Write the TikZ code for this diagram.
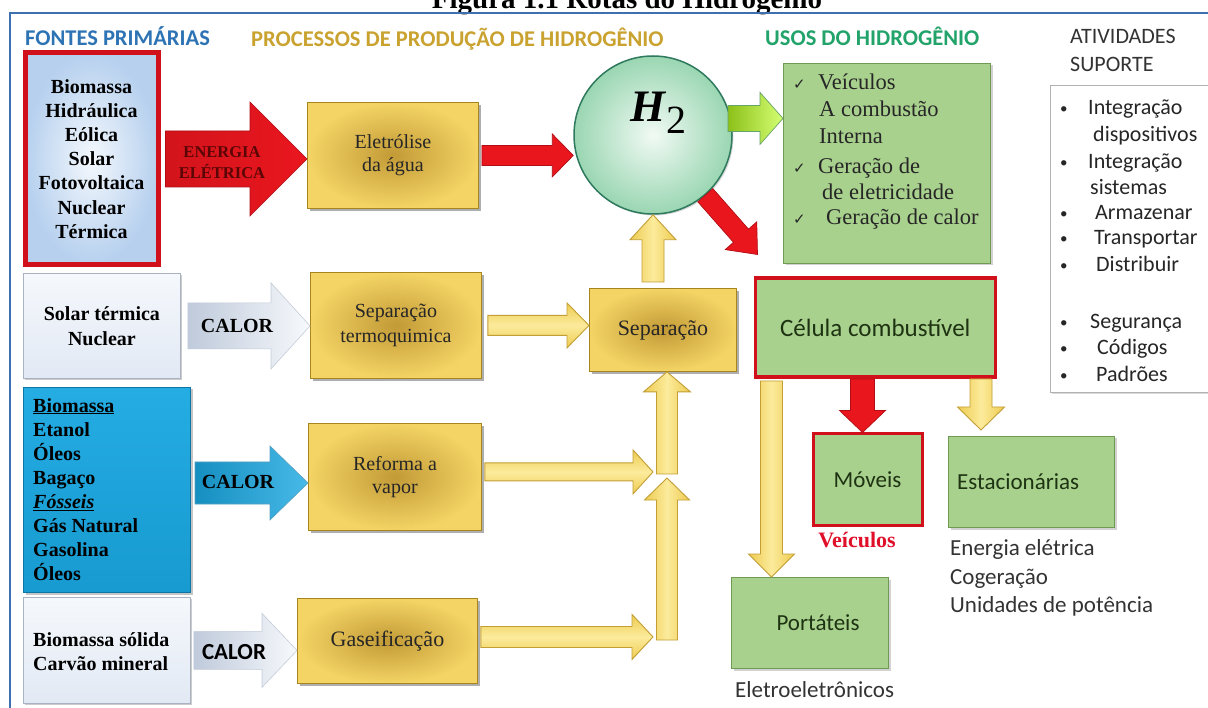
\documentclass[tikz,border=0pt]{standalone}
\usepackage{fontspec}
\setmainfont{Liberation Serif}
\newfontfamily\calib{Carlito}
\newfontfamily\dejavu{DejaVu Sans}
\usetikzlibrary{calc,shadows}
\definecolor{frameblue}{HTML}{3E6FAE}
\definecolor{fontblue}{HTML}{2E74B5}
\definecolor{procgold}{HTML}{C9A230}
\definecolor{usogreen}{HTML}{22A36A}
\definecolor{hdrgray}{HTML}{333333}
\definecolor{goldIn}{HTML}{C29A36}
\definecolor{goldOut}{HTML}{F4D465}
\definecolor{goldE}{HTML}{A8861F}
\definecolor{greenF}{HTML}{A9D18E}
\definecolor{greenE}{HTML}{6F9A52}
\definecolor{txtgreen}{HTML}{1E3312}
\definecolor{redB}{HTML}{D0101A}
\definecolor{redA}{HTML}{EA161E}
\definecolor{redAE}{HTML}{B00E14}
\definecolor{yelL}{HTML}{FCEB9C}
\definecolor{yelD}{HTML}{EDCB50}
\definecolor{yelE}{HTML}{C29E35}
\definecolor{lightT}{HTML}{F5F8FC}
\definecolor{lightB}{HTML}{E2E9F4}
\definecolor{lightE}{HTML}{A9B2C0}
\definecolor{cyanF}{HTML}{19A8E2}
\definecolor{cyanE}{HTML}{0E76A6}
\definecolor{energtxt}{HTML}{5A0606}
\definecolor{veicred}{HTML}{E0102A}
\definecolor{hIn}{HTML}{F1FAF4}
\definecolor{hOut}{HTML}{9AD6B2}
\definecolor{hE}{HTML}{2F7A5E}
\definecolor{srcIn}{HTML}{F4F8FD}
\definecolor{srcOut}{HTML}{B6D0EE}
\definecolor{calL}{HTML}{BFCADB}
\definecolor{calR}{HTML}{F7F9FC}
\definecolor{calE}{HTML}{C4CCD8}
\newcommand\blockarr[6]{%
  \coordinate (bah) at ($(#3)!#6pt!(#2)$);
  \path[#1] ($(#2)!#4pt!90:(#3)$) -- ($(bah)!#4pt!90:(#3)$) -- ($(bah)!#5pt!90:(#3)$) -- (#3)
    -- ($(bah)!#5pt!-90:(#3)$) -- ($(bah)!#4pt!-90:(#3)$) -- ($(#2)!#4pt!-90:(#3)$) -- cycle;}
\newcommand\chk{\makebox[25pt][l]{\dejavu\fontsize{15}{15}\selectfont ✓}}
\newcommand\bul[1]{\makebox[#1][l]{\raisebox{1pt}{\fontsize{15}{15}\selectfont •}}}
\begin{document}
\begin{tikzpicture}[x=1pt,y=-1pt,
  gold/.style={rectangle, draw=goldE, line width=0.9pt, inner color=goldIn, outer color=goldOut,
    drop shadow={shadow xshift=2.5pt,shadow yshift=-2.5pt,opacity=0.45,fill=black!70}, inner sep=0pt,
    anchor=north west, align=center, text=black!85},
  grn/.style={rectangle, draw=greenE, line width=1pt, fill=greenF,
    drop shadow={shadow xshift=2pt,shadow yshift=-2pt,opacity=0.35}, inner sep=0pt, anchor=north west,
    font=\calib\fontsize{23}{28}\selectfont, text=txtgreen},
  redframe/.style={grn, draw=redB, line width=3.5pt,
    drop shadow={shadow xshift=1.5pt,shadow yshift=-1.5pt,opacity=0.6,fill=red!45!black}},
  lightbox/.style={rectangle, draw=lightE, line width=0.8pt, top color=lightT, bottom color=lightB,
    drop shadow={shadow xshift=2pt,shadow yshift=-2pt,opacity=0.4}, inner sep=0pt, anchor=north west,
    font=\bfseries\fontsize{20}{25}\selectfont, align=center},
  serifB/.style={font=\bfseries\fontsize{20}{24.1}\selectfont, inner sep=0pt},
  hdr/.style={anchor=base west, inner sep=0pt, font=\calib\bfseries\fontsize{22.5}{27}\selectfont},
  ativ/.style={anchor=base west, inner sep=0pt, font=\calib\fontsize{22}{26}\selectfont, text=black!85},
  ustxt/.style={anchor=base west, inner sep=0pt, font=\fontsize{22.5}{26}\selectfont, text=black!85},
  lowtxt/.style={anchor=base west, inner sep=0pt, font=\calib\fontsize{23}{28}\selectfont, text=black!80},
  yarrH/.style={top color=yelD, bottom color=yelD, middle color=yelL, draw=yelE, line width=0.9pt},
  yarrV/.style={left color=yelD, right color=yelD, middle color=yelL, draw=yelE, line width=0.9pt},
  rarr/.style={fill=redA, draw=redAE, line width=0.7pt},
  calorL/.style={left color=calL, right color=calR, draw=calE, line width=0.6pt},
  calorB/.style={left color=cyanF!85!black, right color=cyanF!80!white, draw=cyanE!70, line width=0.6pt},
  energ/.style={left color=redA!90!black, right color=redA, draw=redAE, line width=0.6pt},
  garr/.style={left color=green!45!black!50!yellow!90, right color=green!30!yellow!55, draw=green!40!black!60, line width=0.7pt}
]
\useasboundingbox (0,0) rectangle (1208,708);
\fill[white] (0,0) rectangle (1208,708);

% title and frame
\node[anchor=base, inner sep=0pt, font=\bfseries\fontsize{29}{32}\selectfont] (title) at (627,9) {Figura 1.1 Rotas do Hidrogênio};
\draw[frameblue, line width=1.3pt] (10,708) -- (10,13) -- (1208,13);

% headers
\node[hdr, text=fontblue] (hfontes) at (25,46) {FONTES PRIMÁRIAS};
\node[hdr, text=procgold] (hproc) at (251,47) {PROCESSOS DE PRODUÇÃO DE HIDROGÊNIO};
\node[hdr, text=usogreen] (husos) at (765,46) {USOS DO HIDROGÊNIO};
\node[ativ, text=hdrgray] (hativ1) at (1070,44) {ATIVIDADES};
\node[ativ, text=hdrgray] (hativ2) at (1070,72) {SUPORTE};

% primary sources
\node[rectangle, anchor=north west, minimum width=133pt, minimum height=212pt, inner sep=0pt,
  draw=redB, line width=5pt, inner color=srcIn, outer color=srcOut,
  drop shadow={shadow xshift=2pt,shadow yshift=-2pt,opacity=0.7,fill=red!40!black},
  serifB, align=center] (src1) at (22.5,50.5)
  {Biomassa\\Hidráulica\\Eólica\\Solar\\Fotovoltaica\\Nuclear\\Térmica};
\node[lightbox, minimum width=157pt, minimum height=105pt] (solar) at (23,273) {Solar térmica\\Nuclear};
\node[rectangle, anchor=north west, minimum width=167pt, minimum height=205pt, inner sep=0pt,
  top color=cyanF!95!white, bottom color=cyanF!92!black, draw=cyanE, line width=1pt,
  drop shadow={shadow xshift=2pt,shadow yshift=-2pt,opacity=0.45}] (bluebx) at (23,387) {};
\node[serifB, anchor=north west, align=left] (bluetxt) at (33,398)
  {\underline{Biomassa}\\Etanol\\Óleos\\Bagaço\\\underline{\textit{Fósseis}}\\Gás Natural\\Gasolina\\Óleos};
\node[lightbox, minimum width=167pt, minimum height=106pt] (box4) at (23,597) {};
\node[serifB, anchor=west, align=left] (box4txt) at (33,652) {Biomassa sólida\\Carvão mineral};

% production processes
\node[gold, minimum width=171pt, minimum height=106pt, font=\fontsize{20}{23}\selectfont] (eletro) at (307,102) {Eletrólise\\da água};
\node[gold, minimum width=171pt, minimum height=106pt, font=\fontsize{20}{25}\selectfont] (septermo) at (310,272) {Separação\\termoquimica};
\node[gold, minimum width=173pt, minimum height=107pt, font=\fontsize{20}{23}\selectfont] (reforma) at (308,423) {Reforma a\\vapor};
\node[gold, minimum width=180pt, minimum height=85pt, font=\fontsize{22}{25}\selectfont] (gasei) at (297,598) {Gaseificação};
\node[gold, minimum width=147pt, minimum height=83pt, font=\fontsize{22}{25}\selectfont] (separacao) at (589,288) {Separação};

% H2
\node[circle, minimum size=158pt, inner sep=0pt, draw=hE, line width=1.5pt, inner color=hIn, outer color=hOut,
  drop shadow={shadow xshift=1.5pt,shadow yshift=-1.5pt,opacity=0.3}] (h2) at (653,135) {};
\node[anchor=base west, inner sep=0pt, font=\fontsize{45}{45}\selectfont] (h2txt) at (630,122)
  {\textbf{\textit{H}}\raisebox{-12pt}{\fontsize{40}{40}\selectfont 2}};

% uses
\node[grn, minimum width=207pt, minimum height=200pt] (usos) at (783,63) {};
\node[ustxt] (u1) at (793,89.5) {\chk Veículos};
\node[ustxt] (u2) at (819,116.5) {A combustão};
\node[ustxt] (u3) at (819,143.5) {Interna};
\node[ustxt] (u4) at (793,173.5) {\chk Geração de};
\node[ustxt] (u5) at (822,199.5) {de eletricidade};
\node[ustxt] (u6) at (793,224.5) {\chk\hspace{8pt}Geração de calor};

\node[redframe, minimum width=240pt, minimum height=99pt, font=\calib\fontsize{25}{30}\selectfont] (celula) at (753.5,276.5) {Célula combustível};
\node[redframe, line width=3pt, minimum width=109pt, minimum height=91pt] (moveis) at (811.5,432.5) {Móveis};
\node[grn, minimum width=166pt, minimum height=91pt] (estac) at (948,436) {};
\node[anchor=west, inner sep=0pt, font=\calib\fontsize{23}{28}\selectfont, text=txtgreen] (estactxt) at (957,482) {Estacionárias};
\node[grn, minimum width=157pt, minimum height=91pt] (portateis) at (731,577) {};
\node[anchor=center, inner sep=0pt, font=\calib\fontsize{23}{28}\selectfont, text=txtgreen] (porttxt) at (818,623) {Portáteis};

\node[anchor=base, inner sep=0pt, font=\bfseries\fontsize{22}{24}\selectfont, text=veicred] (veic) at (857,547) {Veículos};
\node[lowtxt] (low1) at (950,555) {Energia elétrica};
\node[lowtxt] (low2) at (950,584) {Cogeração};
\node[lowtxt] (low3) at (950,612) {Unidades de potência};
\node[lowtxt] (low4) at (735,697) {Eletroeletrônicos};

% support activities
\node[rectangle, anchor=north west, minimum width=170pt, minimum height=307pt, draw=black!30, fill=white,
  line width=0.8pt, drop shadow={shadow xshift=2pt,shadow yshift=-2pt,opacity=0.3}] (ativbox) at (1050,85) {};
\node[ativ] (a1) at (1060,114.5) {\bul{28pt}Integração};
\node[ativ] (a2) at (1093,141.5) {dispositivos};
\node[ativ] (a3) at (1060,168.5) {\bul{28pt}Integração};
\node[ativ] (a4) at (1090,194.5) {sistemas};
\node[ativ] (a5) at (1060,219.5) {\bul{35pt}Armazenar};
\node[ativ] (a6) at (1060,244.5) {\bul{34pt}Transportar};
\node[ativ] (a7) at (1060,271.5) {\bul{36pt}Distribuir};
\node[ativ] (a8) at (1060,328.5) {\bul{30pt}Segurança};
\node[ativ] (a9) at (1060,354.5) {\bul{37pt}Códigos};
\node[ativ] (a10) at (1060,381.5) {\bul{36pt}Padrões};

% input arrows
\coordinate (ea) at ([xshift=5pt]src1.east);
\coordinate (eb) at (eletro.west |- ea);
\blockarr{energ}{ea}{eb}{28}{57}{57}
\node[inner sep=0pt, align=center, font=\bfseries\fontsize{16.5}{21}\selectfont, text=energtxt] (energtxt) at (222,163) {ENERGIA\\ELÉTRICA};

\coordinate (c1a) at ([xshift=7pt]solar.east);
\coordinate (c1b) at (septermo.west |- c1a);
\blockarr{calorL}{c1a}{c1b}{23}{43}{39}
\node[inner sep=0pt, font=\bfseries\fontsize{20}{24}\selectfont] (calor1) at (237,326) {CALOR};

\coordinate (c2a) at ([xshift=4pt,yshift=7pt]bluebx.east);
\coordinate (c2b) at (reforma.west |- c2a);
\blockarr{calorB}{c2a}{c2b}{21}{37}{38}
\node[inner sep=0pt, font=\bfseries\fontsize{20}{24}\selectfont] (calor2) at (238,482) {CALOR};

\coordinate (c3a) at ([xshift=3pt]box4.east);
\coordinate (c3b) at (gasei.west |- c3a);
\blockarr{calorL}{c3a}{c3b}{19}{37}{35}
\node[inner sep=0pt, font=\calib\bfseries\fontsize{23}{26}\selectfont] (calor3) at (234,652) {CALOR};

% production -> H2
\coordinate (ra) at ([xshift=3pt]eletro.east);
\coordinate (rb) at (h2.west |- ra);
\blockarr{rarr}{ra}{rb}{10}{21.5}{21}

\coordinate (ta) at ([xshift=6pt]septermo.east);
\coordinate (tb) at (separacao.west |- ta);
\blockarr{yarrH}{ta}{tb}{10}{22.5}{22}

\coordinate (sa) at ($(h2.south |- separacao.north)+(0,-6)$);
\coordinate (sb) at (h2.south);
\blockarr{yarrV}{sa}{sb}{11}{23}{25}

\coordinate (jt) at (653,471);
\coordinate (fa) at ([xshift=3pt,yshift=5pt]reforma.east);
\coordinate (fb) at (jt |- fa);
\blockarr{yarrH}{fa}{fb}{9}{22}{20}

\coordinate (jb) at (653,636);
\coordinate (qa) at ([xshift=3pt,yshift=4pt]gasei.east);
\coordinate (qb) at (jb |- qa);
\blockarr{yarrH}{qa}{qb}{10.5}{22.5}{21}

\coordinate (v1s) at (667,474);
\coordinate (v1t) at (v1s |- separacao.south);
\blockarr{yarrV}{v1s}{v1t}{10.5}{23.5}{20}

\coordinate (v2s) at (667,640);
\coordinate (v2t) at (667,478);
\blockarr{yarrV}{v2s}{v2t}{10.5}{22.5}{22}

% H2 -> uses
\coordinate (ga) at ([xshift=-3pt]h2.12);
\coordinate (gb) at (usos.west |- ga);
\blockarr{garr}{ga}{gb}{13}{26}{23}

\coordinate (da) at (h2.-49);
\coordinate (db) at ([shift={(4,-22)}]celula.north west);
\blockarr{rarr}{da}{db}{10}{21}{25}

% fuel cell -> applications
\coordinate (pa) at ([xshift=18pt,yshift=-2pt]celula.south west);
\coordinate (pb) at (pa |- portateis.north);
\blockarr{yarrV}{pa}{pb}{11}{23}{23}

\coordinate (mb) at ([xshift=-5pt]moveis.north);
\coordinate (ma) at (mb |- celula.south);
\blockarr{rarr}{ma}{mb}{12}{23}{22}

\coordinate (eb2) at ([xshift=33pt,yshift=6pt]estac.north west);
\coordinate (ea2) at (eb2 |- celula.south);
\blockarr{yarrV}{ea2}{eb2}{11}{23.5}{23}
\end{tikzpicture}
\end{document}
